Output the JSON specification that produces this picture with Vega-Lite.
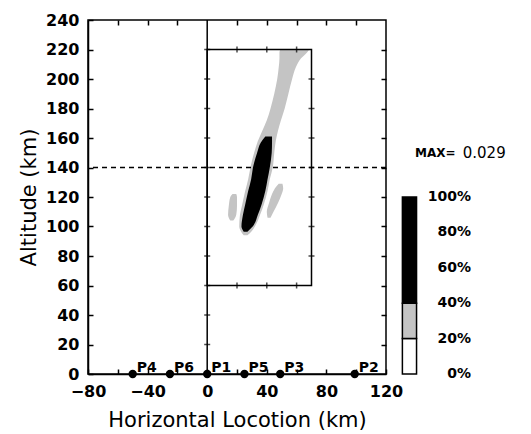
{
  "$schema": "https://vega.github.io/schema/vega-lite/v6.json",
  "autosize": "none",
  "width": 298,
  "height": 354,
  "padding": {"left": 88, "top": 20, "right": 145, "bottom": 60},
  "background": "white",
  "config": {
    "view": {"stroke": "black", "strokeWidth": 1.5},
    "font": "DejaVu Sans",
    "axis": {
      "grid": false,
      "domainColor": "black",
      "domainWidth": 1.5,
      "tickColor": "black",
      "tickWidth": 1.5,
      "labelColor": "black",
      "titleColor": "black",
      "labelFont": "DejaVu Sans",
      "labelFontWeight": "bold",
      "labelFontSize": 16,
      "titleFont": "DejaVu Sans",
      "titleFontWeight": "normal",
      "titleFontSize": 21,
      "labelFlush": false,
      "labelOverlap": false,
      "labelBound": false
    }
  },
  "datasets": {
    "plume": [
      {"part": "plume", "alt": 94, "left": 24.5, "right": 27},
      {"part": "plume", "alt": 97, "left": 22.5, "right": 30},
      {"part": "plume", "alt": 100, "left": 21.5, "right": 32},
      {"part": "plume", "alt": 108, "left": 22, "right": 35.5},
      {"part": "plume", "alt": 115, "left": 23.5, "right": 38},
      {"part": "plume", "alt": 124, "left": 25.5, "right": 40.5},
      {"part": "plume", "alt": 132, "left": 27.5, "right": 42},
      {"part": "plume", "alt": 140, "left": 29, "right": 44},
      {"part": "plume", "alt": 150, "left": 31.5, "right": 45},
      {"part": "plume", "alt": 158, "left": 34, "right": 46},
      {"part": "plume", "alt": 165, "left": 37, "right": 47.5},
      {"part": "plume", "alt": 172, "left": 40, "right": 49.5},
      {"part": "plume", "alt": 180, "left": 42.5, "right": 52},
      {"part": "plume", "alt": 190, "left": 45, "right": 54.5},
      {"part": "plume", "alt": 200, "left": 47, "right": 57},
      {"part": "plume", "alt": 208, "left": 48, "right": 59.5},
      {"part": "plume", "alt": 214, "left": 48.5, "right": 63},
      {"part": "plume", "alt": 218, "left": 48.5, "right": 67},
      {"part": "plume", "alt": 220, "left": 49, "right": 68.5},
      {"part": "west", "alt": 104, "left": 15.5, "right": 17.5},
      {"part": "west", "alt": 108, "left": 14, "right": 19.5},
      {"part": "west", "alt": 114, "left": 14.5, "right": 20},
      {"part": "west", "alt": 120, "left": 15.5, "right": 20},
      {"part": "west", "alt": 122, "left": 17, "right": 19.5},
      {"part": "east", "alt": 106, "left": 40.5, "right": 42.5},
      {"part": "east", "alt": 110, "left": 40, "right": 44.5},
      {"part": "east", "alt": 116, "left": 41.5, "right": 47.5},
      {"part": "east", "alt": 122, "left": 43.5, "right": 50},
      {"part": "east", "alt": 126, "left": 45.5, "right": 51},
      {"part": "east", "alt": 129, "left": 48, "right": 50.5}
    ],
    "core": [
      {"alt": 96.5, "left": 24.5, "right": 27},
      {"alt": 100, "left": 23, "right": 30.5},
      {"alt": 108, "left": 24, "right": 34},
      {"alt": 115, "left": 25.5, "right": 36.5},
      {"alt": 124, "left": 27.5, "right": 39},
      {"alt": 132, "left": 29.5, "right": 40.5},
      {"alt": 140, "left": 30.7, "right": 42},
      {"alt": 150, "left": 33.5, "right": 43.3},
      {"alt": 157, "left": 36, "right": 43.5},
      {"alt": 161, "left": 39, "right": 43.5}
    ],
    "vticks": [
      {"x": 0, "alt": 20}, {"x": 0, "alt": 40}, {"x": 0, "alt": 60}, {"x": 0, "alt": 80},
      {"x": 0, "alt": 100}, {"x": 0, "alt": 120}, {"x": 0, "alt": 140}, {"x": 0, "alt": 160},
      {"x": 0, "alt": 180}, {"x": 0, "alt": 200}, {"x": 0, "alt": 220},
      {"x": 70, "alt": 80}, {"x": 70, "alt": 100}, {"x": 70, "alt": 120}, {"x": 70, "alt": 140},
      {"x": 70, "alt": 160}, {"x": 70, "alt": 180}, {"x": 70, "alt": 200}
    ],
    "hticks": [
      {"x": 20, "alt": 220}, {"x": 40, "alt": 220}, {"x": 60, "alt": 220},
      {"x": 20, "alt": 60}, {"x": 40, "alt": 60}, {"x": 60, "alt": 60}
    ],
    "stations": [
      {"name": "P4", "x": -50},
      {"name": "P6", "x": -25},
      {"name": "P1", "x": 0},
      {"name": "P5", "x": 25},
      {"name": "P3", "x": 49},
      {"name": "P2", "x": 99}
    ],
    "bands": [
      {"band": "0-20%", "lo": 0, "hi": 20},
      {"band": "20-40%", "lo": 20, "hi": 40},
      {"band": "40-100%", "lo": 40, "hi": 100}
    ],
    "pct": [
      {"p": 0, "label": "0%"},
      {"p": 20, "label": "20%"},
      {"p": 40, "label": "40%"},
      {"p": 60, "label": "60%"},
      {"p": 80, "label": "80%"},
      {"p": 100, "label": "100%"}
    ]
  },
  "resolve": {
    "scale": {"y": "independent"},
    "axis": {"x": "independent", "y": "independent"}
  },
  "layer": [
    {
      "data": {"name": "plume"},
      "mark": {"type": "area", "orient": "horizontal", "interpolate": "monotone", "color": "#c4c4c4"},
      "encoding": {
        "y": {
          "field": "alt", "type": "quantitative",
          "scale": {"domain": [0, 240], "nice": false, "zero": false},
          "axis": {
            "orient": "left", "values": [0, 20, 40, 60, 80, 100, 120, 140, 160, 180, 200, 220, 240],
            "tickSize": -5, "labelPadding": 14, "title": "Altitude (km)", "titlePadding": 6
          }
        },
        "x": {
          "field": "left", "type": "quantitative",
          "scale": {"domain": [-80, 120], "nice": false, "zero": false},
          "axis": {
            "orient": "bottom",
            "values": [-80, -60, -40, -20, 0, 20, 40, 60, 80, 100, 120],
            "labelExpr": "datum.value % 40 == 0 ? datum.label : ''",
            "tickSize": -5, "labelPadding": 14,
            "title": "Horizontal Locotion (km)", "titlePadding": 10
          }
        },
        "x2": {"field": "right"},
        "detail": {"field": "part"}
      }
    },
    {
      "data": {"name": "core"},
      "mark": {"type": "area", "orient": "horizontal", "interpolate": "monotone", "color": "black"},
      "encoding": {
        "y": {
          "field": "alt", "type": "quantitative",
          "scale": {"domain": [0, 240], "nice": false, "zero": false},
          "axis": {
            "orient": "right", "values": [20, 40, 60, 80, 100, 120, 140, 160, 180, 200, 220],
            "tickSize": -5, "labels": false, "domain": false, "title": null
          }
        },
        "x": {
          "field": "left", "type": "quantitative",
          "axis": {
            "orient": "top", "values": [-60, -40, -20, 20, 40, 60, 80, 100],
            "tickSize": -5, "labels": false, "domain": false, "title": null
          }
        },
        "x2": {"field": "right"}
      }
    },
    {
      "data": {"values": [{}]},
      "mark": {"type": "rect", "filled": false, "stroke": "black", "strokeWidth": 1.5},
      "encoding": {
        "x": {"datum": 0, "type": "quantitative", "axis": null},
        "x2": {"datum": 70},
        "y": {"datum": 60, "type": "quantitative", "scale": {"domain": [0, 240], "nice": false, "zero": false}, "axis": null},
        "y2": {"datum": 220}
      }
    },
    {
      "data": {"values": [{}]},
      "mark": {"type": "rule", "stroke": "black", "strokeWidth": 1.5},
      "encoding": {
        "x": {"datum": 0, "type": "quantitative", "axis": null}
      }
    },
    {
      "data": {"values": [{}]},
      "mark": {"type": "rule", "stroke": "black", "strokeWidth": 1.5, "strokeDash": [5, 4]},
      "encoding": {
        "y": {"datum": 140, "type": "quantitative", "scale": {"domain": [0, 240], "nice": false, "zero": false}, "axis": null}
      }
    },
    {
      "data": {"name": "vticks"},
      "mark": {"type": "tick", "orient": "horizontal", "color": "black", "size": 6, "thickness": 1.5},
      "encoding": {
        "x": {"field": "x", "type": "quantitative", "axis": null},
        "y": {"field": "alt", "type": "quantitative", "scale": {"domain": [0, 240], "nice": false, "zero": false}, "axis": null}
      }
    },
    {
      "data": {"name": "hticks"},
      "mark": {"type": "tick", "orient": "vertical", "color": "black", "size": 6, "thickness": 1.5},
      "encoding": {
        "x": {"field": "x", "type": "quantitative", "axis": null},
        "y": {"field": "alt", "type": "quantitative", "scale": {"domain": [0, 240], "nice": false, "zero": false}, "axis": null}
      }
    },
    {
      "data": {"name": "stations"},
      "mark": {"type": "point", "shape": "circle", "filled": true, "color": "black", "size": 70, "opacity": 1},
      "encoding": {
        "x": {"field": "x", "type": "quantitative", "axis": null},
        "y": {"datum": 0, "type": "quantitative", "scale": {"domain": [0, 240], "nice": false, "zero": false}, "axis": null}
      }
    },
    {
      "data": {"name": "stations"},
      "mark": {"type": "text", "align": "left", "baseline": "alphabetic", "dx": 4, "dy": -2, "font": "DejaVu Sans", "fontWeight": "bold", "fontSize": 14, "color": "black"},
      "encoding": {
        "x": {"field": "x", "type": "quantitative", "axis": null},
        "y": {"datum": 0, "type": "quantitative", "scale": {"domain": [0, 240], "nice": false, "zero": false}, "axis": null},
        "text": {"field": "name"}
      }
    },
    {
      "data": {"name": "bands"},
      "mark": {"type": "rect", "stroke": "black", "strokeWidth": 1.5},
      "encoding": {
        "x": {"datum": 131, "type": "quantitative", "axis": null},
        "x2": {"datum": 140.5},
        "y": {"field": "lo", "type": "quantitative", "scale": {"domain": [0, 200], "nice": false, "zero": false}, "axis": null},
        "y2": {"field": "hi"},
        "fill": {
          "field": "band", "type": "nominal",
          "scale": {"domain": ["0-20%", "20-40%", "40-100%"], "range": ["white", "#c4c4c4", "black"]},
          "legend": null
        }
      }
    },
    {
      "data": {"name": "pct"},
      "mark": {"type": "text", "align": "right", "baseline": "middle", "font": "DejaVu Sans", "fontWeight": "bold", "fontSize": 14, "color": "black"},
      "encoding": {
        "x": {"datum": 177, "type": "quantitative", "axis": null},
        "y": {"field": "p", "type": "quantitative", "scale": {"domain": [0, 200], "nice": false, "zero": false}, "axis": null},
        "text": {"field": "label"}
      }
    },
    {
      "data": {"values": [{}]},
      "mark": {"type": "text", "align": "left", "baseline": "middle", "font": "DejaVu Sans", "fontWeight": "bold", "fontSize": 12, "color": "black", "text": "MAX="},
      "encoding": {
        "x": {"datum": 139.5, "type": "quantitative", "axis": null},
        "y": {"datum": 125, "type": "quantitative", "scale": {"domain": [0, 200], "nice": false, "zero": false}, "axis": null}
      }
    },
    {
      "data": {"values": [{}]},
      "mark": {"type": "text", "align": "left", "baseline": "middle", "font": "DejaVu Sans", "fontWeight": "normal", "fontSize": 15, "color": "black", "text": "0.029"},
      "encoding": {
        "x": {"datum": 171.5, "type": "quantitative", "axis": null},
        "y": {"datum": 125, "type": "quantitative", "scale": {"domain": [0, 200], "nice": false, "zero": false}, "axis": null}
      }
    }
  ]
}
